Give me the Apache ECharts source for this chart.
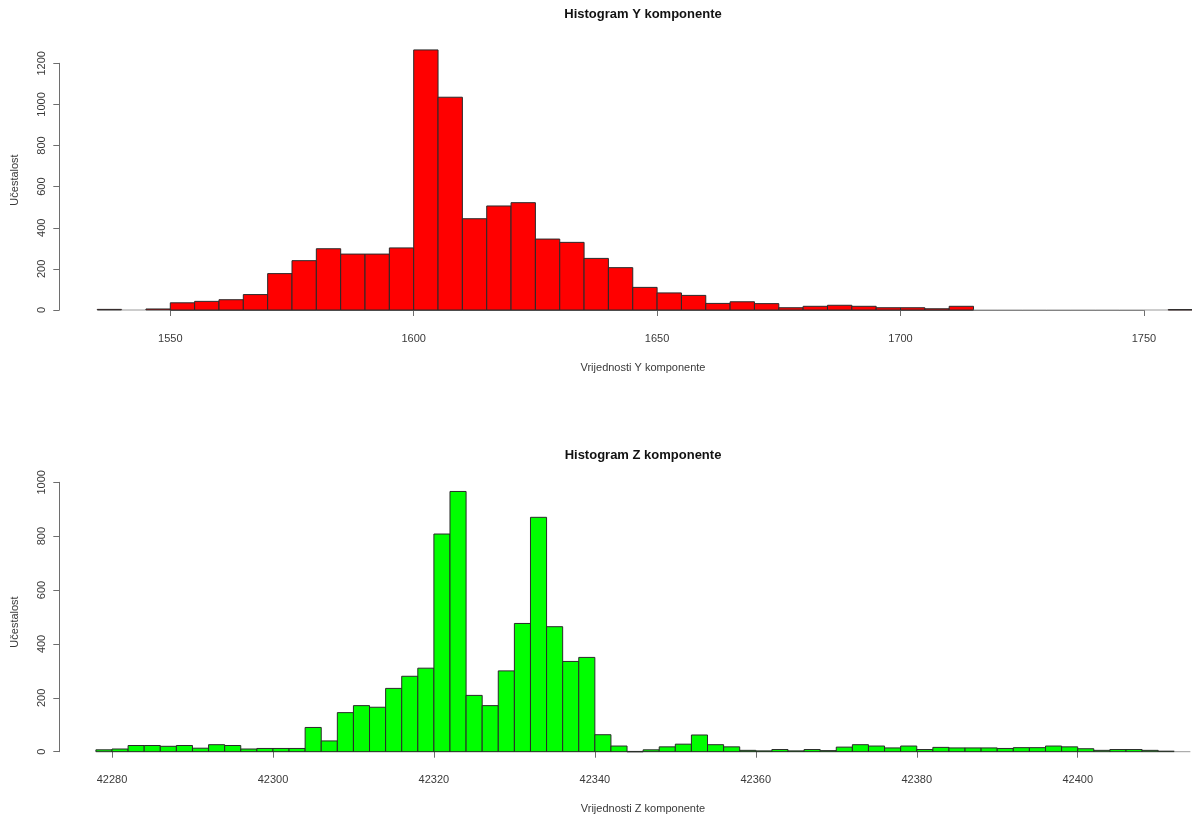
<!DOCTYPE html>
<html>
<head>
<meta charset="utf-8">
<script src="https://cdn.jsdelivr.net/npm/echarts@6/dist/echarts.min.js"></script>
<style>
html,body{margin:0;padding:0;background:#fff;}
#chart{width:1192px;height:816px;}
</style>
</head>
<body>
<div id="chart"></div>
<script>
// ---- Data: Y component histogram ----
var yEdges = [1535,1540,1545,1550,1555,1560,1565,1570,1575,1580,1585,1590,1595,1600,1605,1610,1615,1620,1625,1630,1635,1640,1645,1650,1655,1660,1665,1670,1675,1680,1685,1690,1695,1700,1705,1710,1715,1720,1725,1730,1735,1740,1745,1750,1755,1760];
var yCounts = [3,0,5,35,42,50,75,177,240,298,272,272,302,1265,1035,444,506,522,345,329,251,206,110,83,71,32,40,31,11,18,23,18,11,11,6,18,0,0,0,0,0,0,0,0,2];
var yXTicks = [1550,1600,1650,1700,1750];
var yYTicks = [0,200,400,600,800,1000,1200];

// ---- Data: Z component histogram ----
var zEdges = [42278,42280,42282,42284,42286,42288,42290,42292,42294,42296,42298,42300,42302,42304,42306,42308,42310,42312,42314,42316,42318,42320,42322,42324,42326,42328,42330,42332,42334,42336,42338,42340,42342,42344,42346,42348,42350,42352,42354,42356,42358,42360,42362,42364,42366,42368,42370,42372,42374,42376,42378,42380,42382,42384,42386,42388,42390,42392,42394,42396,42398,42400,42402,42404,42406,42408,42410,42412,42414];
var zCounts = [7,10,23,23,20,23,13,26,23,10,12,12,12,90,40,145,171,165,235,280,310,808,966,209,171,300,476,870,464,335,350,63,21,1,7,18,28,62,26,18,5,3,8,3,8,4,17,26,21,14,21,8,16,14,14,14,12,15,15,21,18,11,5,8,8,5,2,0];
var zXTicks = [42280,42300,42320,42340,42360,42380,42400];
var zYTicks = [0,200,400,600,800,1000];

var titles = ['Histogram Y komponente', 'Histogram Z komponente'];
var xNames = ['Vrijednosti Y komponente', 'Vrijednosti Z komponente'];
var yName = 'Učestalost';

function toBins(edges, counts) {
  var out = [];
  for (var i = 0; i < counts.length; i++) out.push([edges[i], edges[i + 1], counts[i]]);
  return out;
}

function histRenderer(fill) {
  return function (params, api) {
    var s = api.coord([api.value(0), 0]);
    var e = api.coord([api.value(1), api.value(2)]);
    var h = s[1] - e[1];
    if (api.value(2) <= 0) {
      return {
        type: 'line',
        shape: { x1: s[0], y1: s[1], x2: e[0], y2: s[1] },
        style: { stroke: '#9a9a9a', lineWidth: 1 }
      };
    }
    return {
      type: 'rect',
      shape: { x: s[0], y: e[1], width: e[0] - s[0], height: Math.max(h, 0.5) },
      style: { fill: fill, stroke: '#2a2a2a', lineWidth: 1 }
    };
  };
}

var FONT = 'Liberation Sans, Arial, sans-serif';
var axisCol = '#6e6e6e';
var labCol = '#3a3a3a';
function plain(v) { return String(v); }

function xAx(idx, ticks, offset) {
  return {
    type: 'value', gridIndex: idx,
    min: ticks[0], max: ticks[ticks.length - 1], interval: ticks[1] - ticks[0],
    offset: offset,
    axisLine: { show: true, lineStyle: { color: axisCol, width: 1 } },
    axisTick: { show: true, length: 6, lineStyle: { color: axisCol } },
    axisLabel: { show: true, color: labCol, fontSize: 11, fontFamily: FONT, margin: 12, formatter: plain },
    splitLine: { show: false }
  };
}
function yAx(idx, ticks, offset) {
  return {
    type: 'value', gridIndex: idx,
    min: ticks[0], max: ticks[ticks.length - 1], interval: ticks[1] - ticks[0],
    offset: offset,
    axisLine: { show: true, lineStyle: { color: axisCol, width: 1 } },
    axisTick: { show: true, length: 6, lineStyle: { color: axisCol } },
    axisLabel: { show: true, rotate: 90, color: labCol, fontSize: 11, fontFamily: FONT, margin: 12, formatter: plain },
    splitLine: { show: false }
  };
}

function txt(x, y, text, size, bold, rot) {
  return {
    type: 'text', x: x, y: y, rotation: rot || 0,
    style: {
      text: text, fill: bold ? '#111' : '#3a3a3a',
      font: (bold ? 'bold ' : '') + size + 'px ' + FONT,
      textAlign: 'center', textVerticalAlign: 'middle',
      align: 'center', verticalAlign: 'middle'
    }
  };
}

var chart = echarts.init(document.getElementById('chart'), null, { renderer: 'canvas' });
chart.setOption({
  backgroundColor: '#ffffff',
  animation: false,
  grid: [
    { left: 170.3, right: 48.1, top: 63.3, bottom: 506 },
    { left: 112, right: 114.3, top: 482.3, bottom: 64.3 }
  ],
  xAxis: [xAx(0, yXTicks, 11), xAx(1, zXTicks, 11)],
  yAxis: [yAx(0, yYTicks, 111), yAx(1, zYTicks, 52.7)],
  series: [
    {
      type: 'custom', xAxisIndex: 0, yAxisIndex: 0, clip: false,
      renderItem: histRenderer('#ff0000'),
      encode: { x: [0, 1], y: 2 },
      data: toBins(yEdges, yCounts)
    },
    {
      type: 'custom', xAxisIndex: 1, yAxisIndex: 1, clip: false,
      renderItem: histRenderer('#00ff00'),
      encode: { x: [0, 1], y: 2 },
      data: toBins(zEdges, zCounts)
    }
  ],
  graphic: [
    txt(643, 14, titles[0], 13, true),
    txt(643, 455, titles[1], 13, true),
    txt(643, 368, xNames[0], 11, false),
    txt(643, 809, xNames[1], 11, false),
    txt(15, 180, yName, 11, false, Math.PI / 2),
    txt(15, 622, yName, 11, false, Math.PI / 2)
  ]
});
</script>
</body>
</html>
